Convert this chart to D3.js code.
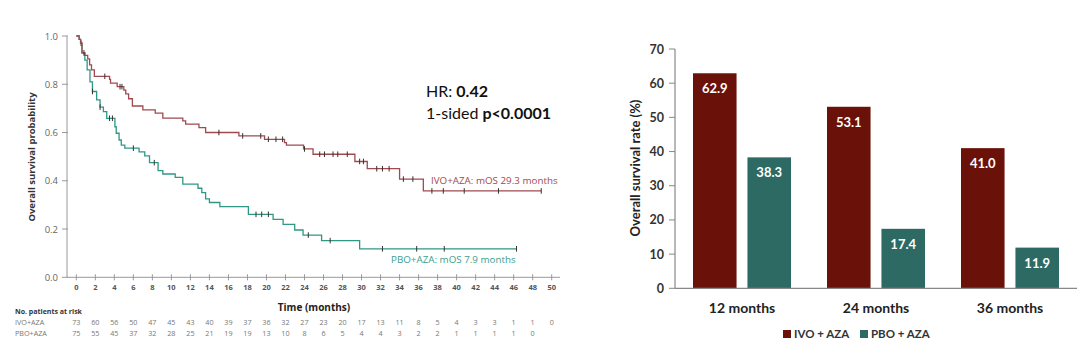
<!DOCTYPE html>
<html>
<head>
<meta charset="utf-8">
<script src="https://cdn.jsdelivr.net/npm/d3@7"></script>
<style>
  body { margin: 0; background: #fff; }
  svg { display: block; }
</style>
</head>
<body>
<div id="chart"></div>
<script>
// ---- data: Kaplan-Meier curves (month, survival after the step) ----
var ivoSteps = [[0,1],[0.3,0.986],[0.45,0.97],[0.6,0.93],[0.9,0.92],[1.2,0.905],[1.4,0.88],[1.6,0.86],[1.9,0.833],
  [3.5,0.82],[3.6,0.805],[4.3,0.79],[5.0,0.776],[5.2,0.76],[5.5,0.74],[5.9,0.71],[7.0,0.694],[8.3,0.68],[9.1,0.66],
  [11.2,0.648],[11.5,0.635],[12.9,0.62],[13.6,0.60],[17.1,0.586],[19.8,0.572],[21.9,0.558],[22.1,0.548],[23.9,0.532],
  [24.9,0.51],[29.3,0.48],[30.6,0.45],[34.0,0.407],[36.5,0.358]];
var ivoEnd = 48.9;
var ivoCensor = [0.8,3.0,4.6,4.8,15.0,17.5,19.4,20.2,21.0,21.7,24.0,25.6,26.1,27.0,27.5,28.5,29.8,30.2,31.6,32.2,32.9,34.4,35.4,37.4,38.6,40.8,44.4,48.9];

var pboSteps = [[0,1],[0.3,0.986],[0.45,0.97],[0.6,0.93],[0.9,0.90],[1.14,0.86],[1.44,0.81],[1.7,0.77],[2.14,0.735],
  [2.5,0.705],[2.85,0.687],[3.2,0.659],[4.06,0.624],[4.2,0.597],[4.5,0.569],[4.73,0.548],[5.1,0.535],[6.6,0.52],
  [7.2,0.503],[7.7,0.475],[8.6,0.442],[9.1,0.428],[10.4,0.414],[11.2,0.386],[12.8,0.369],[13.2,0.351],[13.6,0.325],
  [14.0,0.31],[15.1,0.293],[18.1,0.261],[20.7,0.24],[21.75,0.219],[22.97,0.196],[23.85,0.175],[25.8,0.152],[29.8,0.118]];
var pboEnd = 46.3;
var pboCensor = [0.5,1.7,2.5,3.5,3.8,6.0,8.2,18.9,19.5,20.2,24.4,26.7,32.2,35.8,38.7,46.3];

var kmXTicks = [0,2,4,6,8,10,12,14,16,18,20,22,24,26,28,30,32,34,36,38,40,42,44,46,48,50];
var kmYTicks = [0,0.2,0.4,0.6,0.8,1.0];
var ivoAtRisk = [73,60,56,50,47,45,43,40,39,37,36,32,27,23,20,17,13,11,8,5,4,3,3,1,1,0];
var pboAtRisk = [75,55,45,37,32,28,25,21,19,19,13,10,8,6,5,4,4,3,2,2,1,1,1,1,0];

// ---- data: bar chart ----
var barCategories = ["12 months","24 months","36 months"];
var barSeries = ["IVO + AZA","PBO + AZA"];
var ivoRates = [62.9,53.1,41.0];
var pboRates = [38.3,17.4,11.9];
var barYTicks = [0,10,20,30,40,50,60,70];

var width = 1080, height = 354;
var svg = d3.select("#chart").append("svg").attr("width", width).attr("height", height);

var kmFont = "'Open Sans', sans-serif",
    barFont = "Lato, 'Open Sans', sans-serif",
    ivoLine = "#a04a4f", pboLine = "#2f9885",
    ivoBar = "#6a1209", pboBar = "#2d6a64";

// ================= KM plot =================
var x = d3.scaleLinear().domain([0, 50]).range([76.3, 551.7]);
var y = d3.scaleLinear().domain([0, 1]).range([277.3, 36]);
var km = svg.append("g").attr("class", "km");

// axes
km.append("line").attr("x1", 67).attr("x2", 560).attr("y1", y(0)).attr("y2", y(0)).attr("stroke", "#999");
km.append("line").attr("x1", 67).attr("x2", 67).attr("y1", y(0)).attr("y2", y(1)).attr("stroke", "#999");

km.selectAll(".ytick").data(kmYTicks).enter().append("line")
  .attr("x1", 62).attr("x2", 68).attr("y1", function(d){ return y(d); }).attr("y2", function(d){ return y(d); })
  .attr("stroke", "#999");
km.selectAll(".ylab").data(kmYTicks).enter().append("text")
  .attr("x", 58).attr("y", function(d){ return y(d) + 3.5; })
  .attr("text-anchor", "end").attr("font-family", kmFont).attr("font-size", 9.5).attr("fill", "#666")
  .text(function(d){ return d.toFixed(1); });

km.selectAll(".xtick").data(kmXTicks).enter().append("line")
  .attr("x1", function(d){ return x(d); }).attr("x2", function(d){ return x(d); })
  .attr("y1", y(0) - 3).attr("y2", y(0) + 3).attr("stroke", "#999");
km.selectAll(".xlab").data(kmXTicks).enter().append("text")
  .attr("x", function(d){ return x(d); }).attr("y", 290)
  .attr("text-anchor", "middle").attr("font-family", kmFont).attr("font-size", 7.5).attr("font-weight", "bold").attr("fill", "#555")
  .text(function(d){ return d; });

km.append("text").attr("transform", "translate(35,157) rotate(-90)")
  .attr("text-anchor", "middle").attr("font-family", kmFont).attr("font-size", 9.5).attr("font-weight", "bold").attr("fill", "#333")
  .text("Overall survival probability");
km.append("text").attr("x", 314).attr("y", 311)
  .attr("text-anchor", "middle").attr("font-family", kmFont).attr("font-size", 10).attr("font-weight", "bold").attr("fill", "#222")
  .text("Time (months)");

// curves
var line = d3.line().x(function(d){ return x(d[0]); }).y(function(d){ return y(d[1]); }).curve(d3.curveStepAfter);
function survAt(steps, t){
  var s = 1;
  steps.forEach(function(d){ if (d[0] <= t) s = d[1]; });
  return s;
}
function drawCurve(steps, end, censor, color){
  var pts = steps.concat([[end, steps[steps.length - 1][1]]]);
  km.append("path").datum(pts).attr("d", line).attr("fill", "none").attr("stroke", color).attr("stroke-width", 1.3);
  km.selectAll(null).data(censor).enter().append("line")
    .attr("x1", function(d){ return x(d); }).attr("x2", function(d){ return x(d); })
    .attr("y1", function(d){ return y(survAt(steps, d)) - 2.8; })
    .attr("y2", function(d){ return y(survAt(steps, d)) + 2.8; })
    .attr("stroke", "#3a3030").attr("stroke-width", 1);
}
drawCurve(pboSteps, pboEnd, pboCensor, pboLine);
drawCurve(ivoSteps, ivoEnd, ivoCensor, ivoLine);

km.append("text").attr("x", 431).attr("y", 183.5)
  .attr("font-family", kmFont).attr("font-size", 9.8).attr("fill", "#a4484d")
  .text("IVO+AZA: mOS 29.3 months");
km.append("text").attr("x", 391).attr("y", 263)
  .attr("font-family", kmFont).attr("font-size", 9.8).attr("fill", "#3a9e8c")
  .text("PBO+AZA: mOS 7.9 months");

var hr = km.append("text").attr("x", 426).attr("y", 96.5).attr("font-family", barFont).attr("font-size", 16).attr("fill", "#111");
hr.append("tspan").text("HR: ");
hr.append("tspan").attr("font-weight", "bold").text("0.42");
var pv = km.append("text").attr("x", 426).attr("y", 119).attr("font-family", barFont).attr("font-size", 16).attr("fill", "#111");
pv.append("tspan").text("1-sided ");
pv.append("tspan").attr("font-weight", "bold").text("p<0.0001");

// at-risk table
km.append("text").attr("x", 15).attr("y", 314)
  .attr("font-family", kmFont).attr("font-size", 7).attr("font-weight", "bold").attr("fill", "#333")
  .text("No. patients at risk");
[["IVO+AZA", ivoAtRisk, 325], ["PBO+AZA", pboAtRisk, 335.5]].forEach(function(row){
  km.append("text").attr("x", 15).attr("y", row[2])
    .attr("font-family", kmFont).attr("font-size", 7.2).attr("fill", "#777").text(row[0]);
  km.selectAll(null).data(row[1]).enter().append("text")
    .attr("x", function(d, i){ return x(kmXTicks[i]); }).attr("y", row[2])
    .attr("text-anchor", "middle").attr("font-family", kmFont).attr("font-size", 7.2).attr("fill", "#777")
    .text(function(d){ return d; });
});

// ================= Bar chart =================
var x0 = d3.scaleBand().domain(barCategories).range([675, 1077]);
var x1 = d3.scaleBand().domain(barSeries).range([18, 116]).paddingInner(0.2);
var yb = d3.scaleLinear().domain([0, 70]).range([288.3, 49]);
var bar = svg.append("g").attr("class", "bars");

bar.append("line").attr("x1", 675).attr("x2", 675).attr("y1", yb(0)).attr("y2", yb(70)).attr("stroke", "#888").attr("stroke-width", 1.2);
bar.selectAll(".ytick").data(barYTicks).enter().append("line")
  .attr("x1", 669).attr("x2", 675).attr("y1", function(d){ return yb(d); }).attr("y2", function(d){ return yb(d); })
  .attr("stroke", "#888");
bar.selectAll(".ylab").data(barYTicks).enter().append("text")
  .attr("x", 664).attr("y", function(d){ return yb(d) + 4.5; })
  .attr("text-anchor", "end").attr("font-family", barFont).attr("font-size", 12.5).attr("font-weight", "bold").attr("fill", "#333")
  .text(function(d){ return d; });
bar.append("text").attr("transform", "translate(640,168) rotate(-90)")
  .attr("text-anchor", "middle").attr("font-family", barFont).attr("font-size", 13).attr("font-weight", "bold").attr("fill", "#222")
  .text("Overall survival rate (%)");

var rows = barCategories.map(function(c, i){
  return [{cat: c, s: barSeries[0], v: ivoRates[i], col: ivoBar}, {cat: c, s: barSeries[1], v: pboRates[i], col: pboBar}];
});
var groups = bar.selectAll(".grp").data(rows).enter().append("g")
  .attr("transform", function(d){ return "translate(" + x0(d[0].cat) + ",0)"; });
groups.selectAll("rect").data(function(d){ return d; }).enter().append("rect")
  .attr("x", function(d){ return x1(d.s); }).attr("width", x1.bandwidth())
  .attr("y", function(d){ return yb(d.v); }).attr("height", function(d){ return yb(0) - yb(d.v); })
  .attr("fill", function(d){ return d.col; });
groups.selectAll("text").data(function(d){ return d; }).enter().append("text")
  .attr("x", function(d){ return x1(d.s) + x1.bandwidth() / 2; }).attr("y", function(d){ return yb(d.v) + 20; })
  .attr("text-anchor", "middle").attr("font-family", barFont).attr("font-size", 13).attr("font-weight", "bold").attr("fill", "#fff")
  .text(function(d){ return d.v.toFixed(1); });

bar.append("line").attr("x1", 675).attr("x2", 1077).attr("y1", yb(0)).attr("y2", yb(0)).attr("stroke", "#888").attr("stroke-width", 1.2);
bar.selectAll(".xlab").data(barCategories).enter().append("text")
  .attr("x", function(d){ return x0(d) + x0.bandwidth() / 2; }).attr("y", 312.5)
  .attr("text-anchor", "middle").attr("font-family", barFont).attr("font-size", 14).attr("font-weight", "bold").attr("fill", "#222")
  .text(function(d){ return d; });

// legend
var legX = [783, 860];
barSeries.forEach(function(s, i){
  bar.append("rect").attr("x", legX[i]).attr("y", 330).attr("width", 8).attr("height", 8).attr("fill", i ? pboBar : ivoBar);
  bar.append("text").attr("x", legX[i] + 11).attr("y", 338)
    .attr("font-family", barFont).attr("font-size", 11.5).attr("font-weight", "bold").attr("fill", "#333").text(s);
});
</script>
</body>
</html>
